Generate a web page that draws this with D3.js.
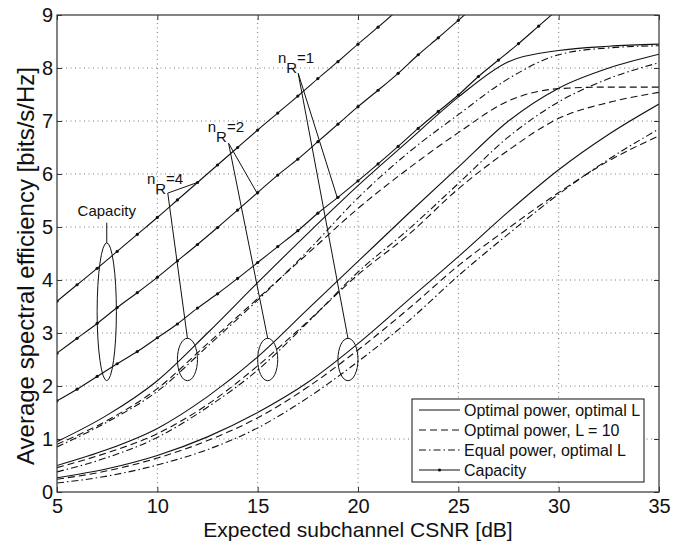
<!DOCTYPE html>
<html>
<head>
<meta charset="utf-8">
<script src="https://cdn.jsdelivr.net/npm/d3@7"></script>
<style>
  body { margin: 0; background: #fff; }
  text { font-family: "Liberation Sans", Arial, Helvetica, sans-serif; }
</style>
</head>
<body>
<div id="figure"></div>
<script>
// x grid of the model curves (dB)
const snrGrid = [5, 7.5, 10, 12.5, 15, 17.5, 20, 22.5, 25, 27.5, 30, 32.5, 35]

// nR = 4
const optOptL4 = [0.95, 1.45, 2.1, 3.0, 3.95, 4.88, 5.78, 6.62, 7.45, 8.12, 8.33, 8.41, 8.45]
const optL10_4 = [0.9, 1.35, 1.95, 2.8, 3.65, 4.5, 5.35, 6.1, 6.78, 7.38, 7.61, 7.64, 7.64]
const eqOptL4 = [0.85, 1.32, 1.9, 2.75, 3.62, 4.55, 5.55, 6.4, 7.12, 7.8, 8.25, 8.38, 8.42]
// nR = 2
const optOptL2 = [0.5, 0.8, 1.2, 1.8, 2.55, 3.45, 4.35, 5.25, 6.13, 7.0, 7.62, 8.0, 8.26]
const optL10_2 = [0.46, 0.74, 1.1, 1.65, 2.38, 3.22, 4.1, 4.85, 5.72, 6.45, 7.05, 7.35, 7.54]
const eqOptL2 = [0.38, 0.65, 1.03, 1.6, 2.3, 3.2, 4.15, 4.95, 5.82, 6.7, 7.36, 7.8, 8.1]
// nR = 1
const optOptL1 = [0.27, 0.44, 0.69, 1.04, 1.5, 2.07, 2.8, 3.62, 4.44, 5.29, 6.08, 6.75, 7.32]
const optL10_1 = [0.24, 0.4, 0.64, 0.97, 1.4, 1.98, 2.68, 3.45, 4.27, 4.98, 5.65, 6.25, 6.72]
const eqOptL1 = [0.17, 0.3, 0.51, 0.8, 1.21, 1.78, 2.46, 3.22, 4.08, 4.87, 5.62, 6.28, 6.85]

// capacity, one point per dB starting at 5 dB
const capacity4 = [3.6, 3.91, 4.22, 4.54, 4.86, 5.18, 5.51, 5.84, 6.17, 6.5, 6.83, 7.15, 7.47, 7.8, 8.12, 8.45, 8.77, 9.1]
const capacity2 = [2.62, 2.9, 3.18, 3.48, 3.76, 4.05, 4.36, 4.67, 4.99, 5.32, 5.65, 5.98, 6.28, 6.61, 6.94, 7.27, 7.58, 7.9, 8.25, 8.57, 8.9, 9.23]
const capacity1 = [1.72, 1.94, 2.18, 2.42, 2.65, 2.91, 3.17, 3.47, 3.74, 4.03, 4.33, 4.63, 4.93, 5.26, 5.56, 5.87, 6.19, 6.52, 6.86, 7.18, 7.49, 7.84, 8.15, 8.46, 8.79, 9.12]

const xTicks = [5, 10, 15, 20, 25, 30, 35]
const yTicks = [0, 1, 2, 3, 4, 5, 6, 7, 8, 9]

const legendLabels = ['Optimal power, optimal L', 'Optimal power, L = 10', 'Equal power, optimal L', 'Capacity']

// figure
const width = 684, height = 542
const margin = { TOP: 15, LEFT: 57, RIGHT: 25, BOTTOM: 50 }
const dashes = { solid: null, dashed: '7,4', dashdot: '7,3,1.5,3' }

const svg = d3.select('#figure').append('svg').attr('width', width).attr('height', height).attr('style', 'background:white')

const x = d3.scaleLinear().domain([5, 35]).range([margin.LEFT, width - margin.RIGHT])
const y = d3.scaleLinear().domain([0, 9]).range([height - margin.BOTTOM, margin.TOP])

svg.append('clipPath').attr('id', 'plotclip').append('rect')
  .attr('x', x(5)).attr('y', y(9)).attr('width', x(35) - x(5)).attr('height', y(0) - y(9))

/**
 * grid
 */
const grid = svg.append('g')
grid.selectAll('.vg').data(xTicks.slice(1, -1)).enter().append('line')
  .attr('x1', d => x(d)).attr('x2', d => x(d)).attr('y1', y(0)).attr('y2', y(9))
  .attr('stroke', '#555').attr('stroke-width', 0.8).attr('stroke-dasharray', '1,3.5')
grid.selectAll('.hg').data(yTicks.slice(1, -1)).enter().append('line')
  .attr('x1', x(5)).attr('x2', x(35)).attr('y1', d => y(d)).attr('y2', d => y(d))
  .attr('stroke', '#555').attr('stroke-width', 0.8).attr('stroke-dasharray', '1,3.5')

/**
 * curves
 */
const plot = svg.append('g').attr('clip-path', 'url(#plotclip)')
const line = d3.line().x(d => x(d[0])).y(d => y(d[1])).curve(d3.curveMonotoneX)

const curves = [
  [optOptL4, 'solid'], [optL10_4, 'dashed'], [eqOptL4, 'dashdot'],
  [optOptL2, 'solid'], [optL10_2, 'dashed'], [eqOptL2, 'dashdot'],
  [optOptL1, 'solid'], [optL10_1, 'dashed'], [eqOptL1, 'dashdot']
]
curves.forEach(([vals, style]) => {
  plot.append('path').datum(vals.map((v, i) => [snrGrid[i], v]))
    .attr('d', line).attr('fill', 'none').attr('stroke', '#111').attr('stroke-width', 1.1)
    .attr('stroke-dasharray', dashes[style])
})

;[capacity4, capacity2, capacity1].forEach(vals => {
  const pts = vals.map((v, i) => [5 + i, v])
  plot.append('path').datum(pts).attr('d', line)
    .attr('fill', 'none').attr('stroke', '#111').attr('stroke-width', 1.1)
  plot.selectAll(null).data(pts).enter().append('circle')
    .attr('cx', d => x(d[0])).attr('cy', d => y(d[1])).attr('r', 1.6).attr('fill', '#111')
})

/**
 * annotations
 */
const ann = svg.append('g').attr('fill', 'none').attr('stroke', '#111').attr('stroke-width', 1)
// capacity ellipse
ann.append('ellipse').attr('cx', x(7.48)).attr('cy', y(3.4))
  .attr('rx', x(7.96) - x(7.48)).attr('ry', y(2.1) - y(3.4))
ann.append('line').attr('x1', x(7.48)).attr('x2', x(7.48)).attr('y1', y(5.08)).attr('y2', y(4.7))
svg.append('text').text('Capacity').attr('x', x(7.48)).attr('y', y(5.21))
  .attr('text-anchor', 'middle').attr('font-size', 15).attr('fill', '#111')

const groups = [
  { lab: '4', ex: 11.5, label: [9.48, 5.82], joint: [10.52, 5.64], cap: [12, 5.84] },
  { lab: '2', ex: 15.5, label: [12.51, 6.8], joint: [13.55, 6.58], cap: [15, 5.62] },
  { lab: '1', ex: 19.5, label: [16.01, 8.09], joint: [17.02, 7.9], cap: [18.97, 5.55] }
]
groups.forEach(g => {
  ann.append('ellipse').attr('cx', x(g.ex)).attr('cy', y(2.5))
    .attr('rx', x(g.ex + 0.5) - x(g.ex)).attr('ry', y(2.1) - y(2.5))
  ann.append('line').attr('x1', x(g.joint[0])).attr('y1', y(g.joint[1]))
    .attr('x2', x(g.cap[0])).attr('y2', y(g.cap[1]))
  ann.append('line').attr('x1', x(g.joint[0])).attr('y1', y(g.joint[1]))
    .attr('x2', x(g.ex)).attr('y2', y(2.9))
  const t = svg.append('text').attr('x', x(g.label[0])).attr('y', y(g.label[1]))
    .attr('font-size', 15).attr('fill', '#111')
  t.append('tspan').text('n')
  t.append('tspan').text('R').attr('dy', 10)
  t.append('tspan').text('=' + g.lab).attr('dy', -10)
})

/**
 * axes box and ticks
 */
const axisColor = '#333'
svg.append('rect').attr('x', x(5)).attr('y', y(9)).attr('width', x(35) - x(5)).attr('height', y(0) - y(9))
  .attr('fill', 'none').attr('stroke', axisColor).attr('stroke-width', 1.2)

const axBottom = svg.append('g').attr('transform', `translate(0,${y(0)})`)
  .call(d3.axisBottom(x).tickValues(xTicks).tickSize(-5).tickPadding(7))
const axTop = svg.append('g').attr('transform', `translate(0,${y(9)})`)
  .call(d3.axisTop(x).tickValues(xTicks).tickSize(-5).tickFormat(''))
const axLeft = svg.append('g').attr('transform', `translate(${x(5)},0)`)
  .call(d3.axisLeft(y).tickValues(yTicks).tickSize(-5).tickPadding(4))
const axRight = svg.append('g').attr('transform', `translate(${x(35)},0)`)
  .call(d3.axisRight(y).tickValues(yTicks).tickSize(-5).tickFormat(''))

;[axBottom, axTop, axLeft, axRight].forEach(a => {
  a.select('.domain').remove()
  a.selectAll('line').attr('stroke', axisColor)
  a.selectAll('text').attr('font-size', 20).attr('fill', '#111')
    .attr('font-family', '"Liberation Sans", Arial, sans-serif')
})

svg.append('text').text('Expected subchannel CSNR [dB]')
  .attr('x', (x(5) + x(35)) / 2).attr('y', 537).attr('text-anchor', 'middle')
  .attr('font-size', 21).attr('fill', '#111')
svg.append('text').text('Average spectral efficiency [bits/s/Hz]')
  .attr('transform', 'translate(34,266) rotate(-90)').attr('text-anchor', 'middle')
  .attr('font-size', 24).attr('fill', '#111')

/**
 * legend
 */
const lg = svg.append('g').attr('transform', 'translate(412,399)')
lg.append('rect').attr('width', 232).attr('height', 83).attr('fill', 'white').attr('stroke', '#111').attr('stroke-width', 1)
const legStyles = ['solid', 'dashed', 'dashdot', 'solid']
legendLabels.forEach((lab, i) => {
  const yy = 11 + i * 20
  lg.append('line').attr('x1', 7).attr('x2', 48).attr('y1', yy).attr('y2', yy)
    .attr('stroke', '#111').attr('stroke-width', 1.1).attr('stroke-dasharray', dashes[legStyles[i]])
  if (i === 3) lg.append('circle').attr('cx', 27.5).attr('cy', yy).attr('r', 1.6).attr('fill', '#111')
  lg.append('text').text(lab).attr('x', 52).attr('y', yy + 6).attr('font-size', 16).attr('fill', '#111')
})
</script>
</body>
</html>
